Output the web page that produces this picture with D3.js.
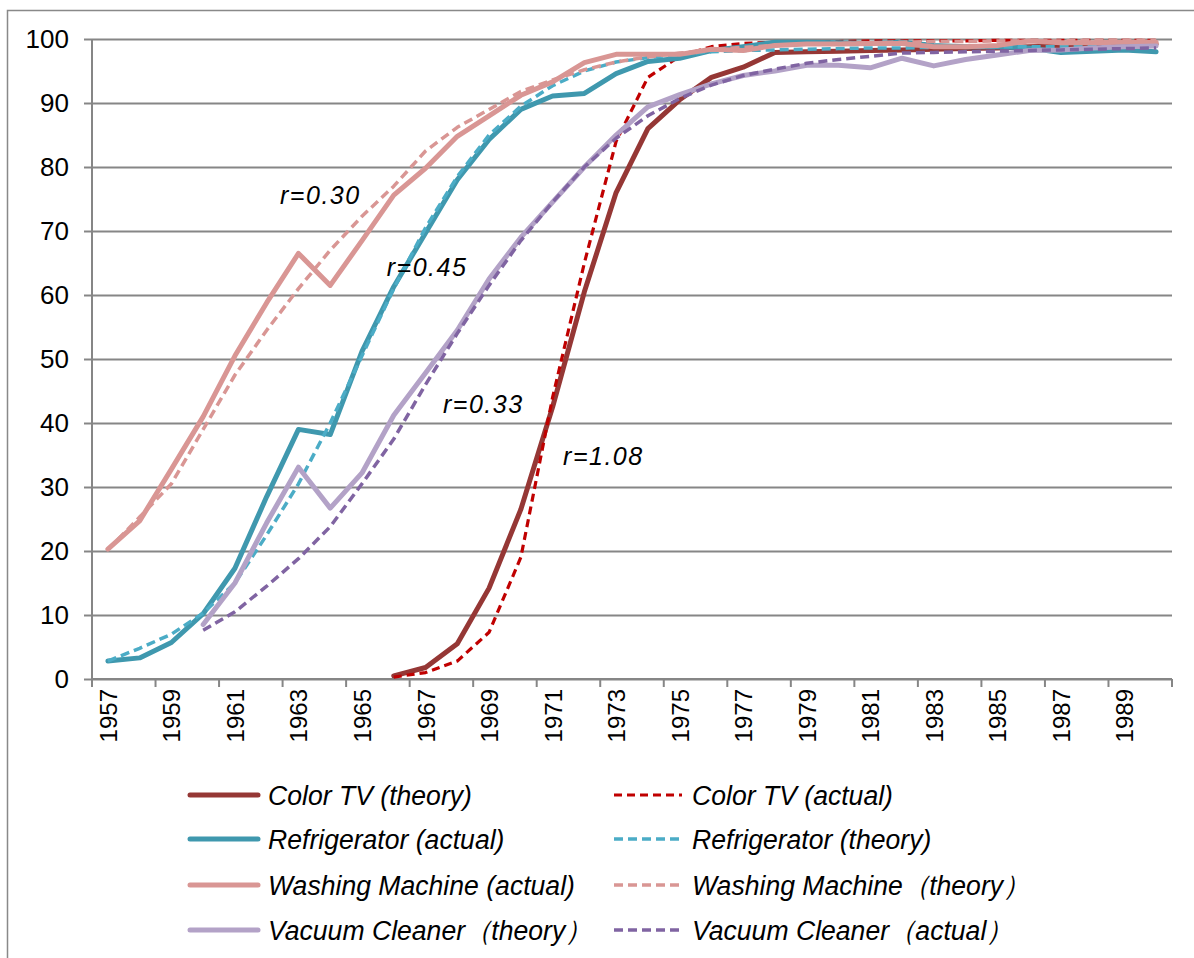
<!DOCTYPE html>
<html>
<head>
<meta charset="utf-8">
<script src="https://cdn.jsdelivr.net/npm/d3@7"></script>
<style>
  html, body { margin: 0; padding: 0; background: #fff; }
  svg text { font-family: "Liberation Sans", Arial, sans-serif; fill: #000; }
</style>
</head>
<body>
<svg id="chart" width="1194" height="958"></svg>
<script>
// Years on the category axis
const years = d3.range(1957, 1991);
const yTicks = [0, 10, 20, 30, 40, 50, 60, 70, 80, 90, 100];

// Diffusion rates (%), one value per year; null where a series has not started
const colorTvTheory = [null, null, null, null, null, null, null, null, null,
  0.5, 1.8, 5.5, 14.2, 26.5, 42.5, 60.5, 76, 86, 90.5, 94, 95.6, 97.9, 98, 98.1,
  98.2, 98.3, 98.4, 98.5, 98.6, 98.8, 98.9, 99, 99.1, 99.2];
const colorTvActual = [null, null, null, null, null, null, null, null, null,
  0.3, 1, 2.8, 7.3, 19, 44, 65, 84, 94, 97.3, 98.8, 99.3, 99.5, 99.6, 99.6,
  99.7, 99.7, 99.7, 99.7, 99.8, 99.8, 99.8, 99.8, 99.8, 99.8];
const fridgeActual = [2.8, 3.3, 5.7, 10.2, 17.3, 28.5, 39, 38.2, 51.2, 61.3,
  69.7, 78, 84.3, 89, 91.1, 91.5, 94.6, 96.5, 97, 98.2, 98.8, 99.5, 99.5, 99.4,
  99.3, 99.5, 99, 98.8, 98.8, 98.6, 97.9, 98.1, 98.3, 98.0];
const fridgeTheory = [2.8, 4.8, 7, 10.3, 15, 22.5, 30.5, 40, 50.5, 61, 70.5,
  78.5, 85, 89.5, 92.7, 95, 96.4, 97.1, 97.6, 98, 98.2, 98.3, 98.4, 98.5, 98.6,
  98.6, 98.7, 98.7, 98.8, 98.8, 98.8, 98.9, 98.9, 98.9];
const washActual = [20.3, 24.7, 32.8, 41, 50.5, 58.8, 66.5, 61.5, 68.5, 75.6,
  79.8, 84.8, 88, 91.2, 93.3, 96.3, 97.6, 97.6, 97.6, 98.4, 98.2, 99, 99.2, 99.2,
  99.3, 99.3, 98.8, 98.8, 99, 99.7, 99.4, 99.4, 99.5, 99.5];
const washTheory = [20.2, 25.3, 30.5, 39, 47.5, 54.5, 61, 67, 72.3, 77, 82.5,
  86.2, 89, 91.8, 93.6, 95.2, 96.4, 97.2, 97.8, 98.3, 98.7, 99, 99.2, 99.3, 99.4,
  99.5, 99.6, 99.6, 99.7, 99.7, 99.7, 99.8, 99.8, 99.8];
const vacuumTheory = [null, null, null,
  8.5, 15, 24.4, 33.1, 26.7, 32.2, 41.2, 47.8, 54.5, 62.5, 69, 74.5, 80, 85, 89.4,
  91.3, 93, 94.3, 95, 95.9, 95.9, 95.5, 97, 95.8, 96.8, 97.5, 98.2, 98.3, 98.6,
  98.8, 98.9];
const vacuumActual = [null, null, null,
  7.6, 10.5, 14.5, 18.8, 23.8, 30.5, 37.5, 46, 54, 61.5, 68.5, 74.5, 80, 84.5,
  88, 90.7, 92.8, 94.3, 95.3, 96.2, 96.8, 97.3, 97.8, 97.9, 98, 98.1, 98.2, 98.3,
  98.4, 98.5, 98.6];

// Series in drawing / legend order
const seriesNames = [
  "Color TV (theory)", "Color TV (actual)",
  "Refrigerator (actual)", "Refrigerator (theory)",
  "Washing Machine (actual)", "Washing Machine\uFF08theory\uFF09",
  "Vacuum Cleaner\uFF08theory\uFF09", "Vacuum Cleaner\uFF08actual\uFF09"
];
const seriesValues = [colorTvTheory, colorTvActual, fridgeActual, fridgeTheory,
  washActual, washTheory, vacuumTheory, vacuumActual];

// Curve-fit labels, anchored at (year, value) of their left baseline point
const fitLabels = ["r=0.30", "r=0.45", "r=0.33", "r=1.08"];
const fitYears = [1962.42, 1965.78, 1967.55, 1971.33];
const fitValues = [74.2, 63.0, 41.6, 33.4];

const styles = [
  { color: "#953735", width: 5, dash: null },
  { color: "#C00000", width: 3.2, dash: "8,5" },
  { color: "#3F98AE", width: 5, dash: null },
  { color: "#4BACC6", width: 3.5, dash: "9,5" },
  { color: "#D99694", width: 5, dash: null },
  { color: "#D99694", width: 3.5, dash: "9,5" },
  { color: "#B3A2C7", width: 5, dash: null },
  { color: "#8064A2", width: 3.5, dash: "9,5" }
];

const svg = d3.select("#chart");
const plot = { left: 92, right: 1172, top: 39, bottom: 679 };

// Outer chart border
svg.append("rect")
  .attr("x", 7.5).attr("y", 10.5)
  .attr("width", 1220).attr("height", 1000)
  .attr("fill", "none").attr("stroke", "#898989").attr("stroke-width", 1.5);

const x = d3.scaleBand().domain(years).range([plot.left, plot.right]).padding(0);
const xc = yr => x(yr) + x.bandwidth() / 2;
const y = d3.scaleLinear().domain([0, 100]).range([plot.bottom, plot.top]);

// Horizontal gridlines and value labels
const yAxis = d3.axisLeft(y).tickValues(yTicks).tickSize(-(plot.right - plot.left)).tickSizeOuter(0).tickPadding(23);
const gy = svg.append("g").attr("transform", `translate(${plot.left},0)`).call(yAxis);
gy.attr("font-size", null).attr("font-family", null);
gy.select(".domain").remove();
gy.selectAll(".tick line").attr("stroke", "#868686").attr("stroke-width", 2);
gy.selectAll(".tick text").style("font-size", "26px").attr("fill", "#000");
gy.selectAll(".tick").append("line")
  .attr("x1", -8).attr("x2", 0).attr("stroke", "#868686").attr("stroke-width", 2);

// Vertical axis line
svg.append("line")
  .attr("x1", plot.left).attr("x2", plot.left)
  .attr("y1", plot.top).attr("y2", plot.bottom)
  .attr("stroke", "#868686").attr("stroke-width", 2);

// Category axis: tick marks between every second category, labels rotated
const tickYears = years.filter((d, i) => i % 2 === 0);
const gx = svg.append("g");
gx.append("line")
  .attr("x1", plot.left).attr("x2", plot.right)
  .attr("y1", plot.bottom).attr("y2", plot.bottom)
  .attr("stroke", "#868686").attr("stroke-width", 2);
gx.selectAll("line.tk").data(tickYears.map(d => x(d)).concat([plot.right]))
  .join("line").attr("class", "tk")
  .attr("x1", d => d).attr("x2", d => d)
  .attr("y1", plot.bottom).attr("y2", plot.bottom + 8)
  .attr("stroke", "#868686").attr("stroke-width", 2);
gx.selectAll("text").data(tickYears).join("text")
  .attr("transform", d => `translate(${xc(d) + 9},${plot.bottom + 10}) rotate(-90)`)
  .attr("text-anchor", "end")
  .style("font-size", "24px")
  .text(d => d);

// Series lines
const line = d3.line()
  .defined(d => d.v !== null)
  .x(d => xc(d.year))
  .y(d => y(d.v));

const gLines = svg.append("g");
seriesValues.forEach((vals, i) => {
  const st = styles[i];
  gLines.append("path")
    .datum(years.map((yr, j) => ({ year: yr, v: vals[j] })))
    .attr("d", line)
    .attr("fill", "none")
    .attr("stroke", st.color)
    .attr("stroke-width", st.width)
    .attr("stroke-linejoin", "round")
    .attr("stroke-linecap", st.dash ? "butt" : "round")
    .attr("stroke-dasharray", st.dash);
});

// Fit annotations
const xYear = d3.scaleLinear().domain([1957, 1990]).range([xc(1957), xc(1990)]);
svg.append("g").selectAll("text").data(fitLabels).join("text")
  .attr("x", (d, i) => xYear(fitYears[i]))
  .attr("y", (d, i) => y(fitValues[i]))
  .attr("text-anchor", "start")
  .style("font-size", "25px")
  .style("font-style", "italic")
  .style("letter-spacing", "1.5px")
  .text(d => d);

// Legend: two columns, four rows
const legendCols = [188, 612];
const legendRows = [795, 839, 885, 930];
const lg = svg.append("g");
seriesNames.forEach((name, i) => {
  const cx = legendCols[i % 2];
  const cy = legendRows[Math.floor(i / 2)];
  const st = styles[i];
  lg.append("line")
    .attr("x1", cx + 2).attr("x2", cx + 70)
    .attr("y1", cy).attr("y2", cy)
    .attr("stroke", st.color)
    .attr("stroke-width", st.width)
    .attr("stroke-linecap", st.dash ? "butt" : "round")
    .attr("stroke-dasharray", st.dash);
  lg.append("text")
    .attr("transform", `translate(${cx + 80},${cy + 10}) scale(0.95,1)`)
    .style("font-size", "28px")
    .style("font-style", "italic")
    .text(name);
});
</script>
</body>
</html>
